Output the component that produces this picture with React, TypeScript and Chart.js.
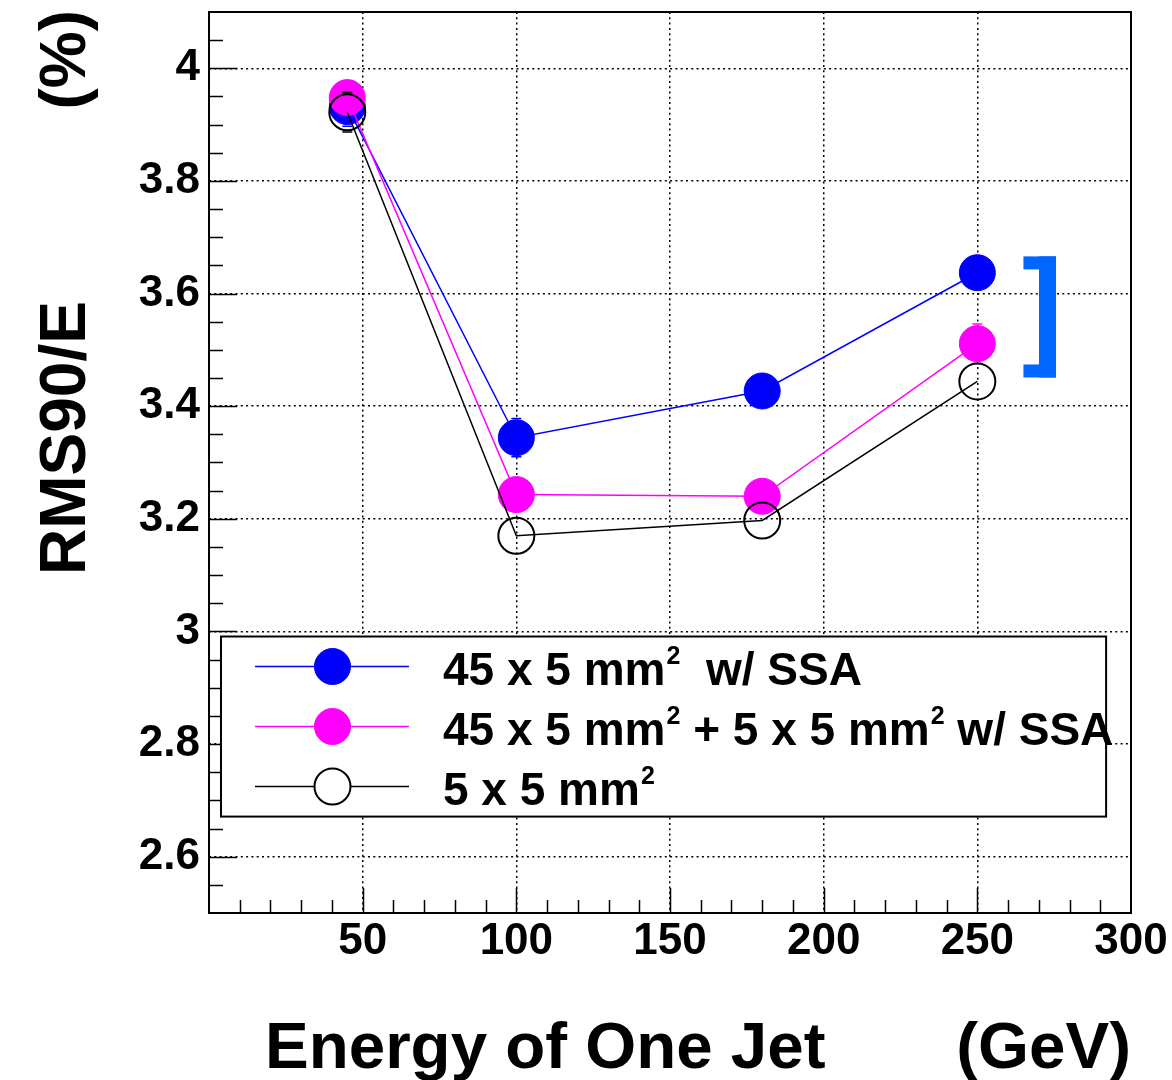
import React, { useEffect, useRef } from "react";
import { Chart, registerables } from "chart.js";

Chart.register(...registerables);

// ---------------- data ----------------
const energies = [45, 100, 180, 250];
const blueValues = [3.932, 3.344, 3.427, 3.637];
const magentaValues = [3.948, 3.243, 3.240, 3.511];
const blackValues = [3.922, 3.170, 3.197, 3.444];
const blueErrors = [0.035, 0.034, 0.033, 0.033];
const magentaErrors = [0.033, 0.02, 0.02, 0.035];
const blackErrors = [0.035, 0.02, 0.02, 0.02];

const xTickValues = [50, 100, 150, 200, 250, 300];
const xTickLabels = ["50", "100", "150", "200", "250", "300"];
const yTickValues = [2.6, 2.8, 3.0, 3.2, 3.4, 3.6, 3.8, 4.0];
const yTickLabels = ["2.6", "2.8", "3", "3.2", "3.4", "3.6", "3.8", "4"];

// legend text segments: [text, isSuperscript]
const blueLabel: [string, boolean][] = [["45 x 5 mm", false], ["2", true], ["  w/ SSA", false]];
const magentaLabel: [string, boolean][] = [
  ["45 x 5 mm", false],
  ["2", true],
  [" + 5 x 5 mm", false],
  ["2", true],
  [" w/ SSA", false],
];
const blackLabel: [string, boolean][] = [["5 x 5 mm", false], ["2", true]];

const xTitleMain = "Energy of One Jet";
const xTitleUnit = "(GeV)";
const yTitleMain = "RMS90/E";
const yTitleUnit = "(%)";

// bracket annotation (value coordinates)
const bracketX = [265, 275.6];
const bracketY = [3.451, 3.666];

const FONT = "'Liberation Sans', Arial, Helvetica, sans-serif";

const seriesLabels = [blueLabel, magentaLabel, blackLabel];
const seriesErrors = [blueErrors, magentaErrors, blackErrors];

const rootPlugin = {
  id: "rootStyle",
  afterDatasetDraw(chart: any, args: any) {
    const ctx = chart.ctx;
    const i = args.index;
    const ds = chart.data.datasets[i];
    const errs = seriesErrors[i];
    const xs = chart.scales.x;
    const ys = chart.scales.y;
    const r = 19;
    ctx.save();
    ctx.strokeStyle = ds.borderColor;
    ctx.lineWidth = 1.5;
    energies.forEach((e, k) => {
      const v = ds.data[k].y;
      const px = xs.getPixelForValue(e);
      const py = ys.getPixelForValue(v);
      const hi = ys.getPixelForValue(v + errs[k]);
      const lo = ys.getPixelForValue(v - errs[k]);
      ctx.beginPath();
      if (hi < py - r) {
        ctx.moveTo(px, hi);
        ctx.lineTo(px, py - r);
        ctx.moveTo(px - 5, hi);
        ctx.lineTo(px + 5, hi);
      }
      if (lo > py + r) {
        ctx.moveTo(px, lo);
        ctx.lineTo(px, py + r);
        ctx.moveTo(px - 5, lo);
        ctx.lineTo(px + 5, lo);
      }
      ctx.stroke();
    });
    ctx.restore();
  },
  afterDraw(chart: any) {
    const ctx = chart.ctx;
    const a = chart.chartArea;
    const xs = chart.scales.x;
    const ys = chart.scales.y;
    ctx.save();

    // ticks (inside)
    ctx.strokeStyle = "#000";
    ctx.lineWidth = 1.5;
    ctx.beginPath();
    for (let i = 1; i < 30; i++) {
      const px = Math.round(xs.getPixelForValue(i * 10)) + 0.5;
      const len = i % 5 === 0 ? 25 : 13;
      ctx.moveTo(px, a.bottom);
      ctx.lineTo(px, a.bottom - len);
    }
    for (let i = 51; i <= 81; i++) {
      const py = Math.round(ys.getPixelForValue(i * 0.05)) + 0.5;
      const len = i % 4 === 0 ? 28 : 14;
      ctx.moveTo(a.left, py);
      ctx.lineTo(a.left + len, py);
    }
    ctx.stroke();

    // frame
    ctx.lineWidth = 2;
    ctx.strokeRect(a.left, a.top, a.right - a.left, a.bottom - a.top);

    // bracket
    const bx0 = xs.getPixelForValue(bracketX[0]);
    const bx1 = xs.getPixelForValue(bracketX[1]);
    const by0 = ys.getPixelForValue(bracketY[1]);
    const by1 = ys.getPixelForValue(bracketY[0]);
    ctx.fillStyle = "#0066ff";
    ctx.fillRect(bx1 - 17, by0, 17, by1 - by0);
    ctx.fillRect(bx0, by0, bx1 - bx0, 13);
    ctx.fillRect(bx0, by1 - 13, bx1 - bx0, 13);

    // legend box
    const lx0 = xs.getPixelForValue(3.9);
    const lx1 = xs.getPixelForValue(291.9);
    const ly0 = ys.getPixelForValue(2.991);
    const ly1 = ys.getPixelForValue(2.6712);
    ctx.fillStyle = "#fff";
    ctx.fillRect(lx0, ly0, lx1 - lx0, ly1 - ly0);
    ctx.strokeStyle = "#000";
    ctx.lineWidth = 2;
    ctx.strokeRect(lx0, ly0, lx1 - lx0, ly1 - ly0);

    chart.data.datasets.forEach((ds: any, i: number) => {
      const ry = ly0 + 30 + i * 60;
      ctx.strokeStyle = ds.borderColor;
      ctx.lineWidth = 1.5;
      ctx.beginPath();
      ctx.moveTo(lx0 + 34, ry);
      ctx.lineTo(lx0 + 188, ry);
      ctx.stroke();
      const mx = lx0 + 111.5;
      ctx.beginPath();
      ctx.arc(mx, ry, 18, 0, Math.PI * 2);
      if (ds.pointBackgroundColor !== "rgba(0,0,0,0)") {
        ctx.fillStyle = ds.pointBackgroundColor;
        ctx.fill();
        ctx.lineWidth = 1;
        ctx.strokeStyle = ds.pointBorderColor;
        ctx.stroke();
      } else {
        ctx.fillStyle = "#fff";
        ctx.fill();
        ctx.lineWidth = 2;
        ctx.strokeStyle = "#000";
        ctx.stroke();
      }
      // text
      let tx = lx0 + 222;
      const base = ry + 18;
      ctx.fillStyle = "#000";
      ctx.textBaseline = "alphabetic";
      ctx.textAlign = "left";
      seriesLabels[i].forEach(([t, sup]) => {
        if (sup) {
          ctx.font = `bold 25px ${FONT}`;
          ctx.fillText(t, tx + 1, base - 21);
          tx += ctx.measureText(t).width + 1;
        } else {
          ctx.font = `bold 46px ${FONT}`;
          ctx.fillText(t, tx, base);
          tx += ctx.measureText(t).width;
        }
      });
    });

    // axis titles
    ctx.fillStyle = "#000";
    ctx.font = `bold 65.5px ${FONT}`;
    ctx.textBaseline = "alphabetic";
    ctx.textAlign = "left";
    ctx.fillText(xTitleMain, 265, 1068);
    ctx.textAlign = "right";
    ctx.fillText(xTitleUnit, a.right, 1068);

    ctx.save();
    ctx.font = `bold 64px ${FONT}`;
    ctx.translate(85, 0);
    ctx.rotate(-Math.PI / 2);
    ctx.textAlign = "left";
    ctx.fillText(yTitleMain, -575, 0);
    ctx.textAlign = "right";
    ctx.fillText(yTitleUnit, -10, 0);
    ctx.restore();

    ctx.restore();
  },
};

export default function App() {
  const ref = useRef<HTMLCanvasElement | null>(null);
  useEffect(() => {
    if (!ref.current) return;
    const mk = (
      label: string,
      values: number[],
      color: string,
      fill: string,
      bw: number,
      order: number
    ) => ({
      label,
      data: energies.map((e, i) => ({ x: e, y: values[i] })),
      borderColor: color,
      borderWidth: 1.5,
      pointRadius: 18,
      pointHoverRadius: 18,
      pointBackgroundColor: fill,
      pointBorderColor: color,
      pointBorderWidth: bw,
      pointStyle: "circle",
      fill: false,
      tension: 0,
      clip: false,
      order,
    });
    const chart = new Chart(ref.current, {
      type: "line",
      data: {
        datasets: [
          mk("45 x 5 mm2 w/ SSA", blueValues, "#0000ff", "#0000ff", 1, 2),
          mk("45 x 5 mm2 + 5 x 5 mm2 w/ SSA", magentaValues, "#ff00ff", "#ff00ff", 1, 1),
          mk("5 x 5 mm2", blackValues, "#000000", "rgba(0,0,0,0)", 2, 0),
        ] as any,
      },
      plugins: [rootPlugin as any],
      options: {
        animation: false,
        responsive: false,
        devicePixelRatio: 1,
        layout: { autoPadding: false, padding: { top: 12, right: 41, left: 0, bottom: 0 } },
        plugins: { legend: { display: false }, tooltip: { enabled: false }, title: { display: false } },
        events: [],
        scales: {
          x: {
            type: "linear",
            position: "bottom",
            min: 0,
            max: 300,
            afterBuildTicks: (s: any) => {
              s.ticks = xTickValues.map((v) => ({ value: v }));
            },
            afterFit: (s: any) => {
              s.height = 167;
              s.paddingLeft = 0;
              s.paddingRight = 0;
            },
            ticks: {
              autoSkip: false,
              maxRotation: 0,
              padding: 2,
              color: "#000",
              font: { family: FONT, weight: "bold", size: 44 },
              callback: (_v: any, i: number) => xTickLabels[i],
            },
            grid: { color: "#000", lineWidth: 1.5, drawTicks: false },
            border: { display: false, dash: [2, 3.3] },
          },
          y: {
            type: "linear",
            position: "left",
            min: 2.5,
            max: 4.1,
            afterBuildTicks: (s: any) => {
              s.ticks = yTickValues.map((v) => ({ value: v }));
            },
            afterFit: (s: any) => {
              s.width = 209;
              s.paddingTop = 0;
              s.paddingBottom = 0;
            },
            ticks: {
              autoSkip: false,
              padding: 9,
              color: "#000",
              font: { family: FONT, weight: "bold", size: 44 },
              callback: (_v: any, i: number) => yTickLabels[i],
            },
            grid: { color: "#000", lineWidth: 1.5, drawTicks: false },
            border: { display: false, dash: [2, 3.3] },
          },
        },
      } as any,
    });
    return () => chart.destroy();
  }, []);
  return (
    <div style={{ position: "absolute", left: 0, top: 0, width: 1172, height: 1080, background: "#fff" }}>
      <canvas ref={ref} width={1172} height={1080} style={{ display: "block" }} />
    </div>
  );
}
